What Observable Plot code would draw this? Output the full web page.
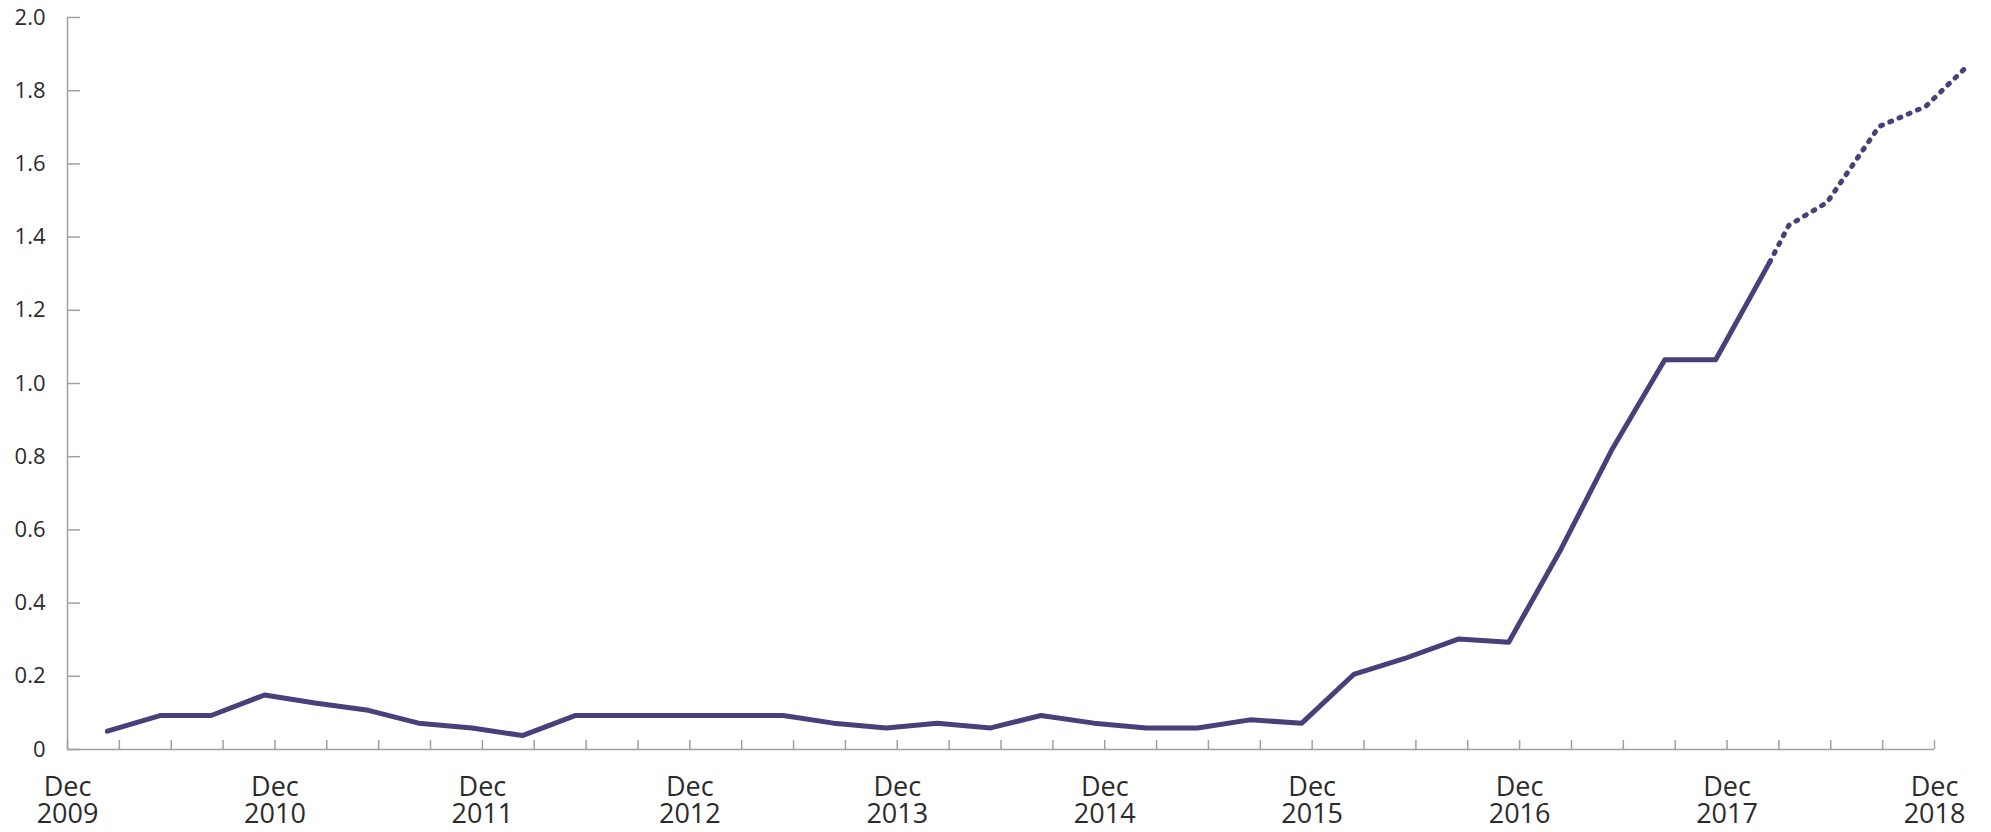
<!DOCTYPE html>
<html>
<head>
<meta charset="utf-8">
<script src="https://cdn.jsdelivr.net/npm/d3@7"></script>
<script src="https://cdn.jsdelivr.net/npm/@observablehq/plot@0.6"></script>
<style>
  html, body { margin: 0; padding: 0; background: #ffffff; }
  #chart svg { display: block; }
</style>
</head>
<body>
<div id="chart"></div>
<script>
// x positions are in quarters since December 2009 (0 = Dec 2009, 36 = Dec 2018)
const actualX = [0.77, 1.80, 2.77, 3.80, 4.77, 5.80, 6.77, 7.80, 8.77, 9.80,
                 10.77, 11.80, 12.77, 13.80, 14.77, 15.79, 16.77, 17.80, 18.77, 19.79,
                 20.80, 21.79, 22.80, 23.80, 24.80, 25.77, 26.83, 27.79, 28.80, 29.79,
                 30.80, 31.78, 32.82];
const actualValues = [0.050, 0.093, 0.093, 0.149, 0.127, 0.107, 0.072, 0.059, 0.038, 0.093,
                      0.093, 0.093, 0.093, 0.093, 0.072, 0.059, 0.072, 0.059, 0.093, 0.072,
                      0.059, 0.059, 0.081, 0.072, 0.205, 0.248, 0.302, 0.293, 0.548, 0.822,
                      1.065, 1.065, 1.331];
const forecastX = [32.82, 33.19, 33.93, 34.93, 35.83, 36.58];
const forecastValues = [1.331, 1.432, 1.495, 1.702, 1.757, 1.860];

const xTicks = d3.range(0, 37);
const xLabelTicks = [0, 4, 8, 12, 16, 20, 24, 28, 32, 36];
const xTickLabels = ["Dec\n2009", "Dec\n2010", "Dec\n2011", "Dec\n2012", "Dec\n2013",
                     "Dec\n2014", "Dec\n2015", "Dec\n2016", "Dec\n2017", "Dec\n2018"];
const yTicks = [0, 0.2, 0.4, 0.6, 0.8, 1.0, 1.2, 1.4, 1.6, 1.8, 2.0];
const yTickLabels = ["0", "0.2", "0.4", "0.6", "0.8", "1.0", "1.2", "1.4", "1.6", "1.8", "2.0"];

const actual = actualX.map((x, i) => ({x, value: actualValues[i]}));
const forecast = forecastX.map((x, i) => ({x, value: forecastValues[i]}));

const lineColor = "#4b3f7b";
const axisColor = "#a0a0a0";
const textColor = "#2b2b2b";

const chart = Plot.plot({
  width: 1991,
  height: 832,
  marginLeft: 67,
  marginRight: 57,
  marginTop: 17,
  marginBottom: 83,
  style: {fontFamily: "'Open Sans', Lato, sans-serif", background: "#ffffff"},
  x: {type: "linear", domain: [0, 36], label: null},
  y: {domain: [0, 2], label: null},
  marks: [
    Plot.axisY(yTicks, {tickSize: -13, tickFormat: () => "", label: null, stroke: axisColor, strokeWidth: 1.5}),
    Plot.axisY(yTicks, {tickSize: 0, tickPadding: 22, fontSize: 22, fill: textColor, label: null,
      tickFormat: d => yTickLabels[yTicks.indexOf(d)]}),
    Plot.axisX(xTicks, {tickSize: -9, tickFormat: () => "", label: null, stroke: axisColor, strokeWidth: 1.5}),
    Plot.axisX(xLabelTicks, {tickSize: 0, tickPadding: 27, fontSize: 27, lineHeight: 1.0, fill: textColor, label: null,
      tickFormat: d => xTickLabels[xLabelTicks.indexOf(d)]}),
    Plot.ruleX([0], {stroke: axisColor, strokeWidth: 1.5}),
    Plot.ruleY([0], {stroke: axisColor, strokeWidth: 1.5}),
    Plot.line(actual, {x: "x", y: "value", stroke: lineColor, strokeWidth: 5}),
    Plot.line(forecast, {x: "x", y: "value", stroke: lineColor, strokeWidth: 5,
      strokeDasharray: "2,8", strokeLinecap: "round"})
  ]
});
document.getElementById("chart").appendChild(chart);
</script>
</body>
</html>
